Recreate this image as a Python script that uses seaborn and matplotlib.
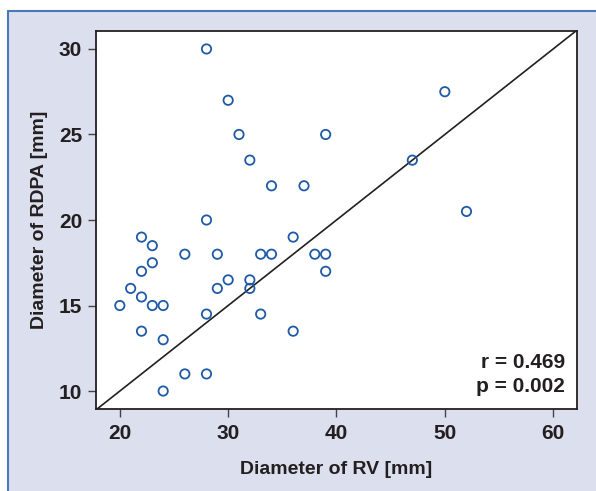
import pandas as pd
import seaborn as sns
import matplotlib.pyplot as plt
from matplotlib.lines import Line2D

# Diameter of RV [mm] vs diameter of RDPA [mm]
rv = [28, 30, 31, 39, 50, 32, 34, 37, 47, 52,
      28, 22, 23, 26, 29, 33, 34, 36, 38, 39,
      39, 23, 22, 21, 22, 20, 23, 24, 29, 30,
      32, 32, 28, 33, 36, 22, 24, 26, 28, 24]
rdpa = [30, 27, 25, 25, 27.5, 23.5, 22, 22, 23.5, 20.5,
        20, 19, 18.5, 18, 18, 18, 18, 19, 18, 18,
        17, 17.5, 17, 16, 15.5, 15, 15, 15, 16, 16.5,
        16.5, 16, 14.5, 14.5, 13.5, 13.5, 13, 11, 11, 10]
x_ticks = [20, 30, 40, 50, 60]
y_ticks = [10, 15, 20, 25, 30]
stats_text = "r = 0.469\np = 0.002"

df = pd.DataFrame({'RV': rv, 'RDPA': rdpa})

sns.set_style('ticks')
plt.rcParams['font.family'] = ['Liberation Sans', 'DejaVu Sans']

bg = '#dcdfee'
txt = '#231f20'
fig = plt.figure(figsize=(5.96, 4.91), dpi=100, facecolor='white')
# lavender panel with blue frame on left and top
fig.patches.append(plt.Rectangle((8 / 596, 0), 1, 1 - 11 / 491, transform=fig.transFigure,
                                 facecolor=bg, edgecolor='none', zorder=-10))
fig.lines.append(Line2D([8 / 596, 8 / 596], [0, 1 - 11 / 491], transform=fig.transFigure,
                        color='#4a78b8', lw=1.5, zorder=-5))
fig.lines.append(Line2D([8 / 596, 1], [1 - 11 / 491, 1 - 11 / 491], transform=fig.transFigure,
                        color='#4a78b8', lw=1.5, zorder=-5))

ax = fig.add_axes([96 / 596, 1 - 409 / 491, 481 / 596, 378 / 491])
ax.set_facecolor('white')

sns.scatterplot(data=df, x='RV', y='RDPA', ax=ax, marker='o', s=45,
                facecolor='none', edgecolor='#1f5aa6', linewidth=1.3, zorder=3)
ax.axline((0, 0), slope=0.5, color=txt, lw=1.2, zorder=2)

ax.set_xlim(17.8, 62.2)
ax.set_ylim(8.95, 31.05)
ax.set_xticks(x_ticks)
ax.set_yticks(y_ticks)

for s in ax.spines.values():
    s.set_color(txt)
    s.set_linewidth(1.3)

ax.tick_params(direction='out', length=6, width=1, color='#444444',
               labelsize=15, labelcolor=txt)
ax.tick_params(axis='x', pad=5)
ax.tick_params(axis='y', pad=4)
for lbl in ax.get_xticklabels() + ax.get_yticklabels():
    lbl.set_fontweight('bold')

ax.set_xlabel('Diameter of RV [mm]', fontsize=14, fontweight='bold', color=txt, labelpad=13)
ax.set_ylabel('Diameter of RDPA [mm]', fontsize=14, fontweight='bold', color=txt, labelpad=8)

ax.text(0.975, 0.035, stats_text, transform=ax.transAxes, ha='right', va='bottom',
        fontsize=15, fontweight='bold', color=txt, linespacing=1.3)

fig.savefig('out.png', dpi=100, facecolor=fig.get_facecolor())
